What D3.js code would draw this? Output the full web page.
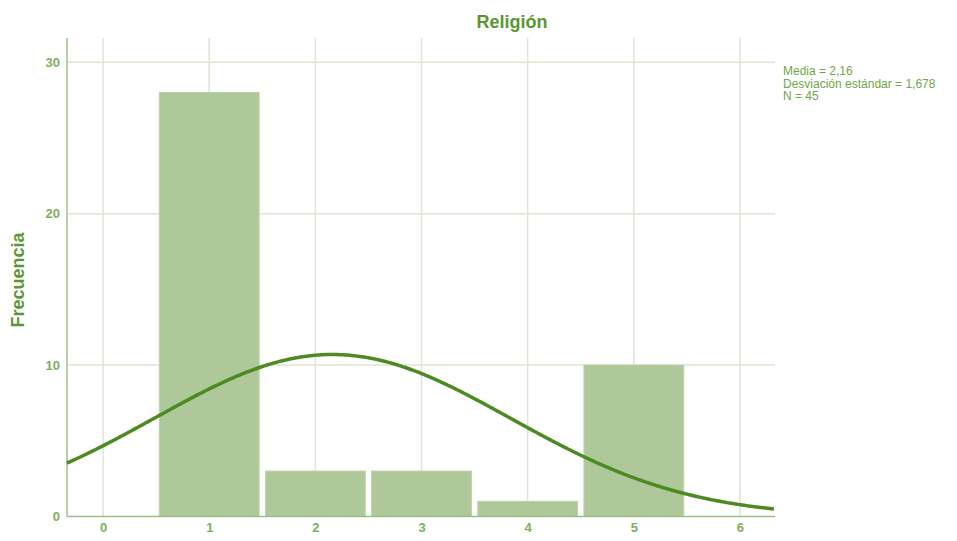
<!DOCTYPE html>
<html><head><meta charset="utf-8">
<script src="https://cdn.jsdelivr.net/npm/d3@7"></script>
<style>body{margin:0;background:#fff;}svg{display:block;font-family:Arial,"Liberation Sans",sans-serif;}</style>
</head><body>
<script>
const categories = [0, 1, 2, 3, 4, 5];
const frequencies = [0, 28, 3, 3, 1, 10];
const xTicks = [0, 1, 2, 3, 4, 5, 6];
const yTicks = [0, 10, 20, 30];
const mean = 2.16, sd = 1.678, n = 45;
const statsLines = ["Media = 2,16", "Desviación estándar = 1,678", "N = 45"];

const W = 957, H = 541;
const svg = d3.select("body").append("svg").attr("width", W).attr("height", H);
const x = d3.scaleLinear().domain([-0.34, 6.33]).range([67, 775]);
const y = d3.scaleLinear().domain([0, 31.6]).range([516.5, 38]);

const grid = "#dce6d3";
svg.append("g").selectAll("line.v").data(xTicks).join("line")
  .attr("x1", d => x(d)).attr("x2", d => x(d)).attr("y1", y(31.6)).attr("y2", y(0))
  .attr("stroke", grid).attr("stroke-width", 1.5);
svg.append("g").selectAll("line.h").data(yTicks.filter(d => d > 0)).join("line")
  .attr("x1", x(-0.34)).attr("x2", x(6.33)).attr("y1", d => y(d)).attr("y2", d => y(d))
  .attr("stroke", grid).attr("stroke-width", 1.5);

const bw = 0.94;
svg.append("g").selectAll("rect").data(categories.map((c, i) => ({c, v: frequencies[i]})).filter(d => d.v > 0)).join("rect")
  .attr("x", d => x(d.c - bw / 2)).attr("width", d => x(d.c + bw / 2) - x(d.c - bw / 2))
  .attr("y", d => y(d.v)).attr("height", d => y(0) - y(d.v))
  .attr("fill", "#afc899").attr("stroke", "#bcd2a9").attr("stroke-width", 1);

// axes
const axCol = "#9cc083";
svg.append("line").attr("x1", x(-0.34)).attr("x2", x(-0.34)).attr("y1", y(31.6)).attr("y2", y(0)).attr("stroke", axCol).attr("stroke-width", 1.5);
svg.append("line").attr("x1", x(-0.34)).attr("x2", x(6.33)).attr("y1", y(0)).attr("y2", y(0)).attr("stroke", axCol).attr("stroke-width", 1.5);

const tickCol = "#7eae5e";
const yAxis = svg.append("g").attr("transform", `translate(${x(-0.34)},0)`)
  .call(d3.axisLeft(y).tickValues(yTicks).tickFormat(d3.format("d")).tickSize(0).tickPadding(7));
yAxis.select(".domain").remove();
yAxis.selectAll("text").attr("fill", tickCol).attr("font-size", 13).attr("font-weight", "bold");
const xAxis = svg.append("g").attr("transform", `translate(0,${y(0)})`)
  .call(d3.axisBottom(x).tickValues(xTicks).tickFormat(d3.format("d")).tickSize(0).tickPadding(6));
xAxis.select(".domain").remove();
xAxis.selectAll("text").attr("fill", tickCol).attr("font-size", 13).attr("font-weight", "bold");

// normal curve from stated mean / sd / N (bin width 1)
const pdf = v => n / (sd * Math.sqrt(2 * Math.PI)) * Math.exp(-0.5 * ((v - mean) / sd) ** 2);
const xs = d3.range(-0.34, 6.331, 0.02);
svg.append("path").datum(xs)
  .attr("d", d3.line().x(d => x(d)).y(d => y(pdf(d))).curve(d3.curveBasis))
  .attr("fill", "none").attr("stroke", "#4c8a22").attr("stroke-width", 3.5);

svg.append("text").attr("x", 512).attr("y", 28).attr("text-anchor", "middle")
  .attr("font-size", 18).attr("font-weight", "bold").attr("fill", "#5a9634").text("Religión");
svg.append("text").attr("transform", "translate(24,280) rotate(-90)").attr("text-anchor", "middle")
  .attr("font-size", 18).attr("font-weight", "bold").attr("fill", "#5a9634").text("Frecuencia");

svg.append("g").selectAll("text").data(statsLines).join("text")
  .attr("x", 783).attr("y", (d, i) => 75 + i * 12.5)
  .attr("font-size", 12).attr("fill", "#6fa64a").text(d => d);
</script>
</body></html>
